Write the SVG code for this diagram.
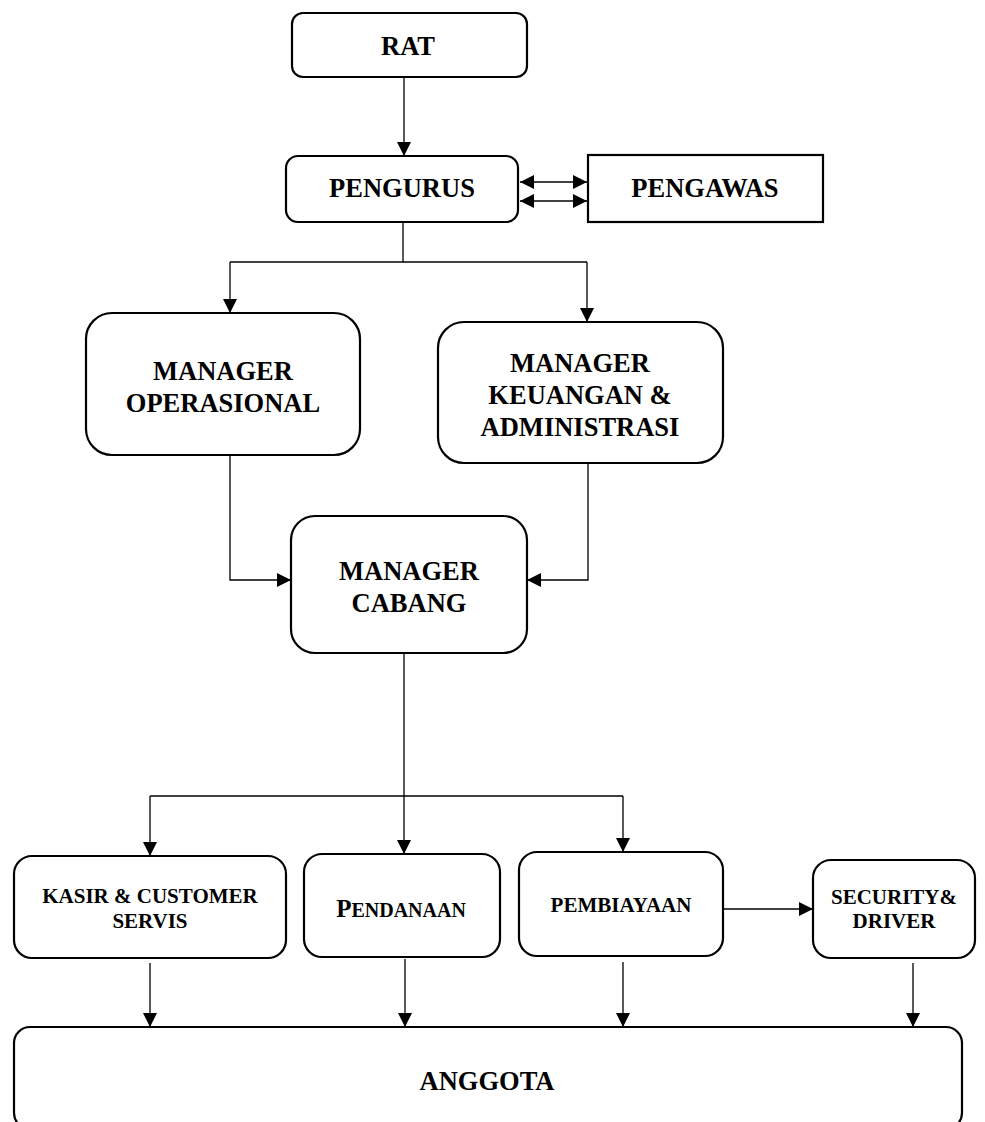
<svg xmlns="http://www.w3.org/2000/svg" width="985" height="1122" viewBox="0 0 985 1122">
<defs>
<marker id="ah" viewBox="0 0 14 14" markerWidth="14" markerHeight="14" refX="14" refY="7" orient="auto-start-reverse" markerUnits="userSpaceOnUse">
<path d="M0,0 L14,7 L0,14 z" fill="#000"/>
</marker>
<style>
.box{fill:#fff;stroke:#000;stroke-width:2.2}
.t{font-family:"Liberation Serif","Times New Roman",serif;font-weight:bold;text-anchor:middle;fill:#000}
.big{font-size:26.5px}
.sm{font-size:21px}
.c{fill:none;stroke:#000;stroke-width:1.3}
.a{marker-end:url(#ah)}
.ab{marker-start:url(#ah);marker-end:url(#ah)}
</style>
</defs>
<rect width="985" height="1122" fill="#fff"/>
<g id="connectors">
<line class="c a" x1="404" y1="77" x2="404" y2="156"/>
<line class="c ab" x1="520" y1="182" x2="587" y2="182"/>
<line class="c ab" x1="520" y1="201" x2="587" y2="201"/>
<polyline class="c" points="403,222 403,262"/>
<polyline class="c" points="230,262 587,262"/>
<line class="c a" x1="230" y1="262" x2="230" y2="313"/>
<line class="c a" x1="587" y1="262" x2="587" y2="322"/>
<polyline class="c a" points="230,455 230,580 291,580"/>
<polyline class="c a" points="588,463 588,580 527,580"/>
<line class="c a" x1="404" y1="653" x2="404" y2="854"/>
<polyline class="c" points="150,796 623,796"/>
<line class="c a" x1="150" y1="796" x2="150" y2="856"/>
<line class="c a" x1="623" y1="796" x2="623" y2="852"/>
<line class="c a" x1="723" y1="909" x2="813" y2="909"/>
<line class="c a" x1="150" y1="963" x2="150" y2="1027"/>
<line class="c a" x1="405" y1="959" x2="405" y2="1027"/>
<line class="c a" x1="623" y1="962" x2="623" y2="1027"/>
<line class="c a" x1="913" y1="963" x2="913" y2="1027"/>
</g>
<g id="rat">
<rect class="box" x="292" y="13" width="235" height="64" rx="11"/>
<text class="t big" x="408" y="55">RAT</text>
</g>
<g id="pengurus">
<rect class="box" x="286" y="156" width="232" height="66" rx="12"/>
<text class="t big" x="402" y="197">PENGURUS</text>
</g>
<g id="pengawas">
<rect class="box" x="588" y="155" width="235" height="67"/>
<text class="t big" x="705" y="197">PENGAWAS</text>
</g>
<g id="manager-operasional">
<rect class="box" x="86" y="313" width="274" height="142" rx="26"/>
<text class="t big" x="223" y="380">MANAGER</text>
<text class="t big" x="223" y="412">OPERASIONAL</text>
</g>
<g id="manager-keuangan">
<rect class="box" x="438" y="322" width="285" height="141" rx="26"/>
<text class="t big" x="580" y="372">MANAGER</text>
<text class="t big" x="580" y="404">KEUANGAN &amp;</text>
<text class="t big" x="580" y="436">ADMINISTRASI</text>
</g>
<g id="manager-cabang">
<rect class="box" x="291" y="516" width="236" height="137" rx="24"/>
<text class="t big" x="409" y="580">MANAGER</text>
<text class="t big" x="409" y="612">CABANG</text>
</g>
<g id="kasir">
<rect class="box" x="14" y="856" width="272" height="102" rx="18"/>
<text class="t sm" x="150" y="903">KASIR &amp; CUSTOMER</text>
<text class="t sm" x="150" y="928">SERVIS</text>
</g>
<g id="pendanaan">
<rect class="box" x="304" y="854" width="196" height="103" rx="18"/>
<text class="t" x="401" y="917"><tspan font-size="25">P</tspan><tspan font-size="20">ENDANAAN</tspan></text>
</g>
<g id="pembiayaan">
<rect class="box" x="519" y="852" width="204" height="104" rx="18"/>
<text class="t sm" x="621" y="912">PEMBIAYAAN</text>
</g>
<g id="security">
<rect class="box" x="813" y="860" width="162" height="98" rx="18"/>
<text class="t sm" x="894" y="904">SECURITY&amp;</text>
<text class="t sm" x="894" y="928">DRIVER</text>
</g>
<g id="anggota">
<rect class="box" x="14" y="1027" width="948" height="102" rx="16"/>
<text class="t big" x="487" y="1090">ANGGOTA</text>
</g>
</svg>
